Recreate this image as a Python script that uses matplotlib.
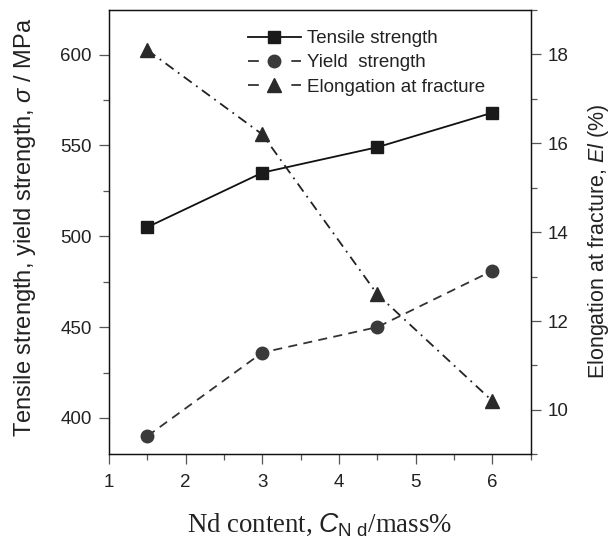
import matplotlib
matplotlib.use("Agg")
import matplotlib.pyplot as plt
from matplotlib.lines import Line2D
from matplotlib.ticker import MultipleLocator

plt.rcParams['font.family'] = ['Liberation Sans', 'DejaVu Sans']
plt.rcParams['mathtext.fontset'] = 'custom'
plt.rcParams['mathtext.it'] = 'Liberation Sans:italic'
plt.rcParams['mathtext.rm'] = 'Liberation Sans'
plt.rcParams['mathtext.sf'] = 'Liberation Sans'

# Data
nd_content = [1.5, 3.0, 4.5, 6.0]
tensile_strength = [505, 535, 549, 568]
yield_strength = [390, 436, 450, 481]
elongation = [18.1, 16.2, 12.6, 10.2]
series_labels = ["Tensile strength", "Yield  strength", "Elongation at fracture"]

fig = plt.figure(figsize=(6.13, 5.42), dpi=100)
ax = fig.add_axes([0.1778, 0.1618, 0.688, 0.8197])
ax2 = ax.twinx()

lw = 1.3
ax.plot(nd_content, tensile_strength, color='#111111', lw=lw, marker='s',
        markersize=8, markerfacecolor='#1a1a1a', markeredgecolor='#1a1a1a', zorder=3)
ax.plot(nd_content, yield_strength, color='#333333', lw=lw, linestyle=(0, (5, 3.5)),
        marker='o', markersize=9, markerfacecolor='#3a3a3a', markeredgecolor='#3a3a3a', zorder=3)
ax2.plot(nd_content, elongation, color='#222222', lw=lw, linestyle=(0, (5.5, 3, 1, 3)),
         marker='^', markersize=9.5, markerfacecolor='#2a2a2a', markeredgecolor='#2a2a2a', zorder=3)

ax.set_xlim(1, 6.5)
ax.set_ylim(380, 624.5)
ax2.set_ylim(9, 19)

ax.xaxis.set_major_locator(MultipleLocator(1))
ax.xaxis.set_minor_locator(MultipleLocator(0.5))
ax.yaxis.set_major_locator(MultipleLocator(50))
ax.yaxis.set_minor_locator(MultipleLocator(25))
ax2.yaxis.set_major_locator(MultipleLocator(2))
ax2.yaxis.set_minor_locator(MultipleLocator(1))

for a in (ax, ax2):
    for s in a.spines.values():
        s.set_color('#111111')
        s.set_linewidth(0.9)
    a.tick_params(which='major', direction='out', length=7.5, width=0.9, color='#555555',
                  labelsize=13.5, labelcolor='#222222', pad=5)
    a.tick_params(which='minor', direction='out', length=4, width=0.9, color='#555555')

ax.tick_params(axis='x', which='major', pad=6.5)
ax.tick_params(axis='y', which='both', right=False)
ax.tick_params(axis='x', which='both', top=False)

ax.set_xlabel(r"Nd content, $\mathit{C}_{\mathrm{N\ d}}$/mass%", family='Liberation Serif',
              fontsize=19.3, color='#222222', labelpad=14.5)
ax.set_ylabel(r"Tensile strength, yield strength, $\mathit{\sigma}$ / MPa", fontsize=17,
              color='#222222')
ax.yaxis.set_label_coords(-0.168, 0.51)
ax2.set_ylabel(r"Elongation at fracture, $\mathit{El}$ (%)", fontsize=15.5, color='#222222')
ax2.yaxis.set_label_coords(1.131, 0.48)

handles = [
    Line2D([], [], color='#111111', lw=lw, marker='s', markersize=8,
           markerfacecolor='#1a1a1a', markeredgecolor='#1a1a1a'),
    Line2D([], [], color='#333333', lw=lw, linestyle=(0, (6, 18, 6, 18)), marker='o',
           markersize=9, markerfacecolor='#3a3a3a', markeredgecolor='#3a3a3a'),
    Line2D([], [], color='#333333', lw=lw, linestyle=(0, (6, 18, 6, 18)), marker='^',
           markersize=9.5, markerfacecolor='#2a2a2a', markeredgecolor='#2a2a2a'),
]
leg = ax2.legend(handles, series_labels, loc='upper left', bbox_to_anchor=(0.330, 0.955),
                 frameon=False, fontsize=13.5, handlelength=2.8, handletextpad=0.35,
                 labelspacing=0.38, borderpad=0, borderaxespad=0, labelcolor='#222222')

fig.savefig("out.png", dpi=100)
